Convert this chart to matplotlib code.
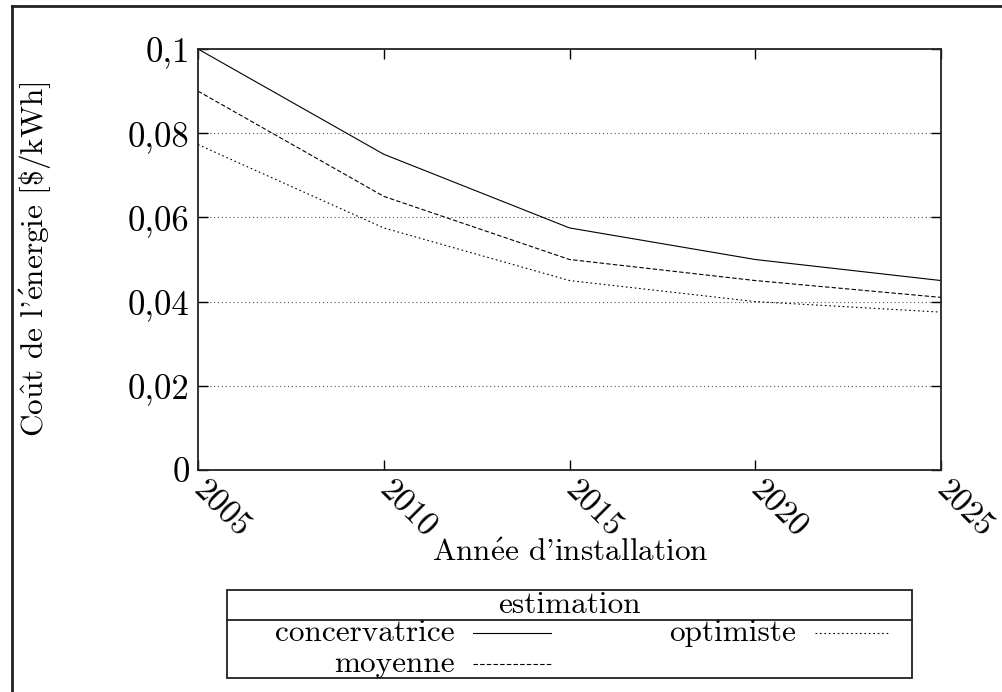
import matplotlib
matplotlib.use("Agg")
import matplotlib.pyplot as plt
from matplotlib.lines import Line2D
from matplotlib.patches import Rectangle

plt.rcParams['font.family'] = ['cmr10', 'DejaVu Serif']
plt.rcParams['axes.formatter.use_mathtext'] = True
plt.rcParams['mathtext.fontset'] = 'cm'

years = [2005, 2010, 2015, 2020, 2025]
conservatrice = [0.100, 0.075, 0.0575, 0.050, 0.045]
moyenne = [0.090, 0.065, 0.050, 0.045, 0.041]
optimiste = [0.0773, 0.0575, 0.045, 0.040, 0.0375]

ytick_vals = [0, 0.02, 0.04, 0.06, 0.08, 0.1]
ytick_labels = ["0", "0,02", "0,04", "0,06", "0,08", "0,1"]
xtick_vals = [2005, 2010, 2015, 2020, 2025]
xtick_labels = ["2005", "2010", "2015", "2020", "2025"]

series_labels = ["concervatrice", "moyenne", "optimiste"]
legend_title = "estimation"
xlabel = r"Ann$\mathrm{\acute{e}}$e d'installation"
ylabel = r"Co$\mathrm{\hat{u}}$t de l'$\mathrm{\acute{e}}$nergie [\$/kWh]"

W, H = 1002, 692
fig = plt.figure(figsize=(W / 100, H / 100), dpi=100)
ax = fig.add_axes([198 / W, 1 - 470 / H, (941 - 198) / W, (470 - 49) / H])

fs_ytick = 25
fs_xtick = 24
fs = 22.5
styles = [dict(linestyle='-'), dict(linestyle=(0, (4, 2))), dict(linestyle=(0, (1.5, 2.5)))]
for vals, st in zip([conservatrice, moyenne, optimiste], styles):
    ax.plot(years, vals, color='black', linewidth=0.8, **st)

ax.set_xlim(2005, 2025)
ax.set_ylim(0, 0.1)
for g in ytick_vals[1:-1]:
    ax.axhline(g, color='#555555', linewidth=0.8, linestyle=(0, (1, 2.5)), zorder=0)

ax.set_yticks(ytick_vals)
ax.set_yticklabels(ytick_labels, fontsize=fs_ytick)
ax.set_xticks(xtick_vals)
ax.set_xticklabels(xtick_labels, fontsize=fs_xtick, rotation=-45, ha='left', va='center',
                   rotation_mode='anchor')
ax.tick_params(direction='in', length=7, width=1.0, top=True, right=True, pad=6)
ax.tick_params(axis='x', pad=11)
for s in ax.spines.values():
    s.set_linewidth(1.3)
    s.set_color('#222222')

fig.text(570 / W, 1 - 553 / H, xlabel, fontsize=fs, ha='center', va='center')
fig.text(35 / W, 1 - 259 / H, ylabel, fontsize=fs, ha='center', va='center', rotation=90)

# legend box
bx0, bx1, by0, bsep, by1 = 227, 912, 590, 620, 678
fig.add_artist(Rectangle((bx0 / W, 1 - by1 / H), (bx1 - bx0) / W, (by1 - by0) / H,
                         transform=fig.transFigure, fill=False, edgecolor='#222222', linewidth=1.3))
fig.add_artist(Line2D([bx0 / W, bx1 / W], [1 - bsep / H, 1 - bsep / H],
                      transform=fig.transFigure, color='#222222', linewidth=1.3))
fig.text((bx0 + bx1) / 2 / W, 1 - 605 / H, legend_title, fontsize=fs, ha='center', va='center')

entries = [(455, 473, 551, 633), (455, 473, 551, 664), (796, 815, 890, 633)]
for (tx, lx0, lx1, yy), lab, st in zip(entries, series_labels, styles):
    fig.text(tx / W, 1 - yy / H, lab, fontsize=fs, ha='right', va='center')
    fig.add_artist(Line2D([lx0 / W, lx1 / W], [1 - yy / H, 1 - yy / H], transform=fig.transFigure,
                          color='black', linewidth=0.8, **st))

# outer frame lines (left and top)
fig.add_artist(Line2D([12 / W, 12 / W], [0, 1 - 6 / H], transform=fig.transFigure,
                      color='#222222', linewidth=2.0))
fig.add_artist(Line2D([12 / W, 1], [1 - 6 / H, 1 - 6 / H], transform=fig.transFigure,
                      color='#222222', linewidth=2.0))

fig.savefig("out.png", dpi=100)
